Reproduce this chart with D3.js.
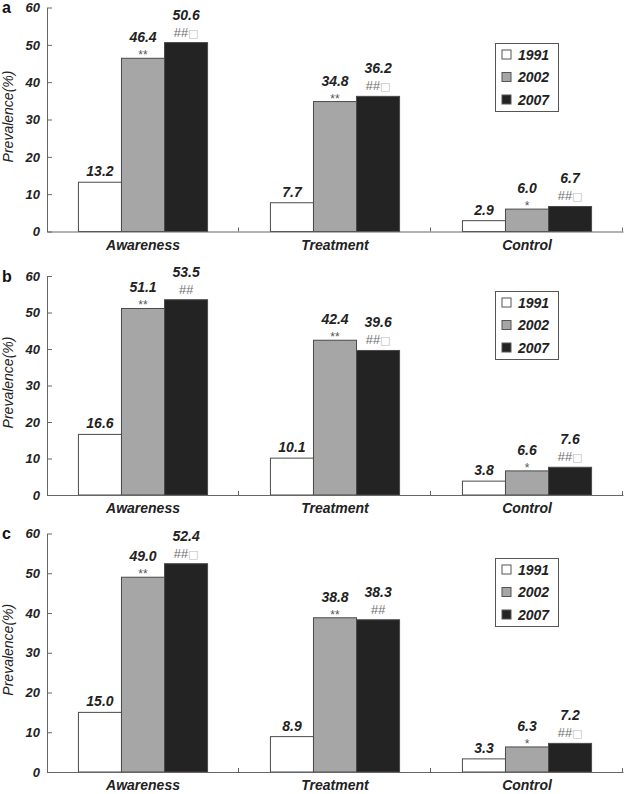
<!DOCTYPE html>
<html><head><meta charset="utf-8">
<script src="https://cdn.jsdelivr.net/npm/d3@7"></script>
<style>body{margin:0;background:#fff}svg{display:block}</style>
</head><body>
<script>
// ---- data ----
const panels = ["a", "b", "c"];
const categories = ["Awareness", "Treatment", "Control"];
const years = ["1991", "2002", "2007"];
const yTicks = [0, 10, 20, 30, 40, 50, 60];
// values[panel] per year
const values1991 = [[13.2, 7.7, 2.9], [16.6, 10.1, 3.8], [15.0, 8.9, 3.3]];
const values2002 = [[46.4, 34.8, 6.0], [51.1, 42.4, 6.6], [49.0, 38.8, 6.3]];
const values2007 = [[50.6, 36.2, 6.7], [53.5, 39.6, 7.6], [52.4, 38.3, 7.2]];
const marks2002 = [["**", "**", "*"], ["**", "**", "*"], ["**", "**", "*"]];
const marks2007 = [["##", "##", "##"], ["##", "##", "##"], ["##", "##", "##"]];
const boxes2007 = [[true, true, true], [false, true, true], [true, false, true]];

// ---- layout ----
const W = 624, H = 794;
const layout = [
  {top: 7.5, bottom: 231.5, legendY: 43},
  {top: 276, bottom: 495, legendY: 291},
  {top: 533.5, bottom: 772, legendY: 558}
];
const left = 47, right = 623;
const fills = {"1991": "#ffffff", "2002": "#a6a6a6", "2007": "#232323"};
const FONT = "'Liberation Sans', Arial, sans-serif";

const svg = d3.select("body").append("svg").attr("width", W).attr("height", H)
  .style("font-family", FONT);

const x = d3.scaleBand().domain(categories).range([left, right]).padding(0);
const xs = d3.scaleBand().domain(years).range([0, x.bandwidth()]).paddingInner(0).paddingOuter(0.73);
const fmt = d3.format(".1f");

panels.forEach((p, pi) => {
  const L = layout[pi];
  const y = d3.scaleLinear().domain([0, 60]).range([L.bottom, L.top]);
  const g = svg.append("g");
  const vals = {"1991": values1991[pi], "2002": values2002[pi], "2007": values2007[pi]};

  // bars
  years.forEach(yr => {
    g.selectAll(null).data(categories.map((c, i) => ({c, v: vals[yr][i], i})))
      .join("rect")
      .attr("x", d => x(d.c) + xs(yr))
      .attr("y", d => y(d.v))
      .attr("width", xs.bandwidth())
      .attr("height", d => y(0) - y(d.v))
      .attr("fill", fills[yr])
      .attr("stroke", "#4a4a4a")
      .attr("stroke-width", 1);
  });

  // y axis
  const ya = g.append("g").attr("transform", `translate(${left},0)`)
    .call(d3.axisLeft(y).tickValues(yTicks).tickSize(-5).tickSizeOuter(0).tickPadding(7));
  ya.select(".domain").attr("stroke", "#666");
  ya.selectAll(".tick line").attr("stroke", "#666");
  ya.selectAll(".tick text").attr("font-size", 13).attr("font-weight", "bold")
    .attr("font-style", "italic").attr("fill", "#222").attr("font-family", FONT);

  // x axis
  const xa = g.append("g").attr("transform", `translate(0,${L.bottom})`)
    .call(d3.axisBottom(x).tickSize(0).tickSizeOuter(0).tickPadding(18));
  xa.select(".domain").attr("stroke", "#666");
  xa.selectAll(".tick text").attr("font-size", 14).attr("font-weight", "bold")
    .attr("font-style", "italic").attr("fill", "#222").attr("font-family", FONT)
    .attr("dy", "0");
  // boundary ticks
  g.selectAll(null).data(categories).join("line")
    .attr("x1", d => x(d) + x.bandwidth() - 0.5).attr("x2", d => x(d) + x.bandwidth() - 0.5)
    .attr("y1", L.bottom).attr("y2", L.bottom - 4)
    .attr("stroke", "#666");

  // value labels
  years.forEach((yr, yi) => {
    const off = yr === "1991" ? 6 : (yr === "2002" ? 16 : 23);
    g.selectAll(null).data(categories.map((c, i) => ({c, v: vals[yr][i]})))
      .join("text")
      .attr("x", d => x(d.c) + xs(yr) + xs.bandwidth() / 2)
      .attr("y", d => y(d.v) - off)
      .attr("text-anchor", "middle")
      .attr("font-size", 14).attr("font-weight", "bold").attr("font-style", "italic")
      .attr("fill", "#222")
      .text(d => fmt(d.v));
  });
  // 2002 markers
  g.selectAll(null).data(categories.map((c, i) => ({c, v: vals["2002"][i], m: marks2002[pi][i]})))
    .join("text")
    .attr("x", d => x(d.c) + xs("2002") + xs.bandwidth() / 2)
    .attr("y", d => y(d.v) + 1)
    .attr("text-anchor", "middle")
    .attr("font-size", 12).attr("fill", "#555")
    .text(d => d.m);
  // 2007 markers
  const m7 = g.selectAll(null).data(categories.map((c, i) => ({c, v: vals["2007"][i], m: marks2007[pi][i], b: boxes2007[pi][i]})))
    .join("text")
    .attr("x", d => x(d.c) + xs("2007") + xs.bandwidth() / 2)
    .attr("y", d => y(d.v) - 6)
    .attr("text-anchor", "middle")
    .attr("font-size", 13).attr("font-style", "italic").attr("fill", "#707070");
  m7.append("tspan").text(d => d.m);
  m7.filter(d => d.b).append("tspan").attr("fill", "#bbb").attr("font-style", "normal")
    .attr("font-size", 11).attr("font-family", "DejaVu Sans").text("\u25A1");

  // y title
  g.append("text")
    .attr("transform", `translate(12.5,${(L.top + L.bottom) / 2 - 3}) rotate(-90)`)
    .attr("text-anchor", "middle")
    .attr("font-size", 14).attr("font-style", "italic").attr("fill", "#222")
    .text("Prevalence(%)");

  // panel letter
  g.append("text").attr("x", 2).attr("y", L.top + 5.5)
    .attr("font-size", 16).attr("font-weight", "bold").attr("fill", "#111")
    .text(p);

  // legend
  const lg = g.append("g").attr("transform", `translate(495,${L.legendY})`);
  lg.append("rect").attr("x", 0.5).attr("y", 0.5).attr("width", 63).attr("height", 68)
    .attr("fill", "#fff").attr("stroke", "#555");
  years.forEach((yr, i) => {
    const cy = 11.5 + i * 22.5;
    lg.append("rect").attr("x", 7).attr("y", cy - 4.5).attr("width", 9).attr("height", 9)
      .attr("fill", fills[yr]).attr("stroke", "#555");
    lg.append("text").attr("x", 23).attr("y", cy + 5)
      .attr("font-size", 14).attr("font-weight", "bold").attr("font-style", "italic")
      .attr("fill", "#222").text(yr);
  });
});
</script>
</body></html>
